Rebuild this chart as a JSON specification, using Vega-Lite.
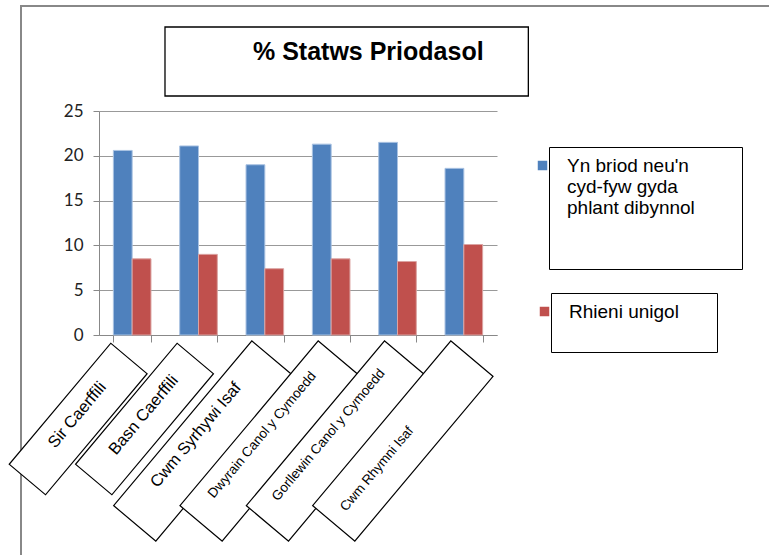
{
  "$schema": "https://vega.github.io/schema/vega-lite/v6.json",
  "autosize": {"type": "none"},
  "padding": {"left": 21, "top": 6, "right": -42, "bottom": -31},
  "width": 790,
  "height": 580,
  "background": "white",
  "config": {"view": {"stroke": "#888888", "strokeWidth": 2}},
  "title": {
    "text": "% Statws Priodasol",
    "anchor": "start",
    "frame": "group",
    "font": "Liberation Sans",
    "fontSize": 25,
    "fontWeight": "bold",
    "color": "black",
    "dx": 232,
    "offset": -71,
    "baseline": "middle"
  },
  "data": {
    "values": [
      {"cat": "Sir Caerffili", "series": "Yn briod neu'n cyd-fyw gyda phlant dibynnol", "value": 20.6},
      {"cat": "Sir Caerffili", "series": "Rhieni unigol", "value": 8.5},
      {"cat": "Basn Caerffili", "series": "Yn briod neu'n cyd-fyw gyda phlant dibynnol", "value": 21.1},
      {"cat": "Basn Caerffili", "series": "Rhieni unigol", "value": 9.0},
      {"cat": "Cwm Syrhywi Isaf", "series": "Yn briod neu'n cyd-fyw gyda phlant dibynnol", "value": 19.0},
      {"cat": "Cwm Syrhywi Isaf", "series": "Rhieni unigol", "value": 7.4},
      {"cat": "Dwyrain Canol y Cymoedd", "series": "Yn briod neu'n cyd-fyw gyda phlant dibynnol", "value": 21.3},
      {"cat": "Dwyrain Canol y Cymoedd", "series": "Rhieni unigol", "value": 8.5},
      {"cat": "Gorllewin Canol y Cymoedd", "series": "Yn briod neu'n cyd-fyw gyda phlant dibynnol", "value": 21.5},
      {"cat": "Gorllewin Canol y Cymoedd", "series": "Rhieni unigol", "value": 8.2},
      {"cat": "Cwm Rhymni Isaf", "series": "Yn briod neu'n cyd-fyw gyda phlant dibynnol", "value": 18.6},
      {"cat": "Cwm Rhymni Isaf", "series": "Rhieni unigol", "value": 10.1}
    ]
  },
  "layer": [
    {
      "transform": [{"filter": {"field": "series", "equal": "Yn briod neu'n cyd-fyw gyda phlant dibynnol"}}],
      "mark": {"type": "bar", "stroke": "#a9c2e2", "strokeWidth": 1},
      "encoding": {
        "x": {
          "field": "cat", "type": "nominal", "sort": null,
          "scale": {
            "domain": ["Sir Caerffili", "Basn Caerffili", "Cwm Syrhywi Isaf", "Dwyrain Canol y Cymoedd", "Gorllewin Canol y Cymoedd", "Cwm Rhymni Isaf"],
            "range": [78, 476], "paddingInner": 0.433, "paddingOuter": 0.2165
          },
          "axis": {
            "title": null, "labels": false, "offset": -251, "tickBand": "extent",
            "tickSize": 7, "tickColor": "#888888", "domainColor": "#888888", "grid": false
          }
        },
        "y": {
          "field": "value", "type": "quantitative",
          "scale": {"domain": [0, 25], "range": [329, 105], "nice": false},
          "axis": {
            "title": null, "values": [0, 5, 10, 15, 20, 25], "offset": -78,
            "tickSize": 6, "tickColor": "#888888", "domainColor": "#888888",
            "grid": true, "gridColor": "#999999", "gridWidth": 1.2,
            "labelFont": "Lato", "labelFontSize": 17, "labelColor": "#222222", "labelPadding": 10
          }
        },
        "xOffset": {"field": "series", "type": "nominal", "scale": {"domain": ["Yn briod neu'n cyd-fyw gyda phlant dibynnol", "Rhieni unigol"]}},
        "color": {
          "field": "series", "type": "nominal",
          "scale": {"domain": ["Yn briod neu'n cyd-fyw gyda phlant dibynnol"], "range": ["#4f81bd"]},
          "legend": {
            "orient": "none", "legendX": 528, "legendY": 141, "title": null,
            "symbolType": "square", "symbolSize": 90, "symbolStrokeWidth": 0, "symbolOffset": -25,
            "labelFont": "Liberation Sans", "labelFontSize": 19, "labelColor": "black", "labelLimit": 400, "labelOffset": 15,
            "labelExpr": "[\"Yn briod neu'n\", 'cyd-fyw gyda', 'phlant dibynnol', '', '\u2800\u00a0\u00a0\u00a0\u00a0\u00a0\u00a0\u00a0\u00a0\u00a0\u00a0\u00a0\u00a0\u00a0\u00a0\u00a0\u00a0\u00a0\u00a0\u00a0\u00a0\u00a0\u00a0\u00a0\u00a0\u00a0\u00a0\u2800']",
            "strokeColor": "black", "padding": 9
          }
        }
      }
    },
    {
      "transform": [{"filter": {"field": "series", "equal": "Rhieni unigol"}}],
      "mark": {"type": "bar", "stroke": "#dba3a2", "strokeWidth": 1},
      "encoding": {
        "x": {"field": "cat", "type": "nominal", "sort": null},
        "y": {"field": "value", "type": "quantitative"},
        "xOffset": {"field": "series", "type": "nominal"},
        "color": {
          "field": "series", "type": "nominal",
          "scale": {"domain": ["Rhieni unigol"], "range": ["#c0504d"]},
          "legend": {
            "orient": "none", "legendX": 530, "legendY": 287, "title": null,
            "symbolType": "square", "symbolSize": 90, "symbolStrokeWidth": 0, "symbolOffset": -25,
            "labelFont": "Liberation Sans", "labelFontSize": 19, "labelColor": "black", "labelLimit": 400, "labelOffset": 15,
            "labelExpr": "['Rhieni unigol', '\u2800\u00a0\u00a0\u00a0\u00a0\u00a0\u00a0\u00a0\u00a0\u00a0\u00a0\u00a0\u00a0\u00a0\u00a0\u00a0\u00a0\u00a0\u00a0\u00a0\u00a0\u00a0\u2800']",
            "strokeColor": "black", "padding": 9
          }
        }
      }
    },
    {
      "data": {"values": [{"box": "title"}]},
      "mark": {"type": "rect", "fill": "white", "fillOpacity": 0, "stroke": "black", "strokeWidth": 1.3, "xOffset": -14.7, "x2Offset": 45.7, "yOffset": -84, "y2Offset": -15},
      "encoding": {
        "x": {"datum": "Basn Caerffili", "type": "nominal", "bandPosition": 0},
        "x2": {"datum": "Cwm Rhymni Isaf", "bandPosition": 1},
        "y": {"datum": 25, "type": "quantitative"},
        "y2": {"datum": 25}
      }
    },
    {
      "transform": [
        {"filter": {"field": "series", "equal": "Rhieni unigol"}},
        {"filter": {"field": "cat", "oneOf": ["Sir Caerffili", "Basn Caerffili"]}}
      ],
      "mark": {"type": "point", "shape": "M-1,-0.3L1,-0.3L1,0.3L-1,0.3Z", "size": 24964, "angle": 310, "filled": true, "fill": "white", "stroke": "black", "strokeWidth": 1.2, "opacity": 1, "xOffset": -54, "yOffset": 84},
      "encoding": {
        "x": {"field": "cat", "type": "nominal", "sort": null},
        "y": {"datum": 0, "type": "quantitative"}
      }
    },
    {
      "transform": [
        {"filter": {"field": "series", "equal": "Rhieni unigol"}},
        {"filter": {"field": "cat", "oneOf": ["Cwm Syrhywi Isaf", "Dwyrain Canol y Cymoedd", "Gorllewin Canol y Cymoedd", "Cwm Rhymni Isaf"]}}
      ],
      "mark": {"type": "point", "shape": "M-1,-0.256L1,-0.256L1,0.256L-1,0.256Z", "size": 46225, "angle": 310, "filled": true, "fill": "white", "stroke": "black", "strokeWidth": 1.2, "opacity": 1, "xOffset": -61, "yOffset": 106},
      "encoding": {
        "x": {"field": "cat", "type": "nominal", "sort": null},
        "y": {"datum": 0, "type": "quantitative"}
      }
    },
    {
      "transform": [
        {"filter": {"field": "series", "equal": "Rhieni unigol"}},
        {"filter": {"field": "cat", "oneOf": ["Sir Caerffili", "Basn Caerffili"]}}
      ],
      "mark": {"type": "text", "font": "Liberation Sans", "fontSize": 16.5, "angle": 310, "align": "center", "baseline": "middle", "color": "black", "xOffset": -55, "yOffset": 80},
      "encoding": {
        "x": {"field": "cat", "type": "nominal", "sort": null},
        "y": {"datum": 0, "type": "quantitative"},
        "text": {"field": "cat"}
      }
    },
    {
      "transform": [
        {"filter": {"field": "series", "equal": "Rhieni unigol"}},
        {"filter": {"field": "cat", "oneOf": ["Cwm Syrhywi Isaf", "Dwyrain Canol y Cymoedd", "Gorllewin Canol y Cymoedd"]}}
      ],
      "mark": {"type": "text", "font": "Liberation Sans", "angle": 310, "align": "center", "baseline": "middle", "color": "black", "xOffset": -69, "yOffset": 100},
      "encoding": {
        "x": {"field": "cat", "type": "nominal", "sort": null},
        "y": {"datum": 0, "type": "quantitative"},
        "text": {"field": "cat"},
        "size": {"condition": {"test": "datum.cat == 'Cwm Syrhywi Isaf'", "value": 16.5}, "value": 13.5}
      }
    },
    {
      "transform": [
        {"filter": {"field": "series", "equal": "Rhieni unigol"}},
        {"filter": {"field": "cat", "oneOf": ["Cwm Rhymni Isaf"]}}
      ],
      "mark": {"type": "text", "font": "Liberation Sans", "fontSize": 13.5, "angle": 310, "align": "center", "baseline": "middle", "color": "black", "xOffset": -87, "yOffset": 134},
      "encoding": {
        "x": {"field": "cat", "type": "nominal", "sort": null},
        "y": {"datum": 0, "type": "quantitative"},
        "text": {"field": "cat"}
      }
    }
  ],
  "resolve": {"scale": {"color": "independent"}}
}
